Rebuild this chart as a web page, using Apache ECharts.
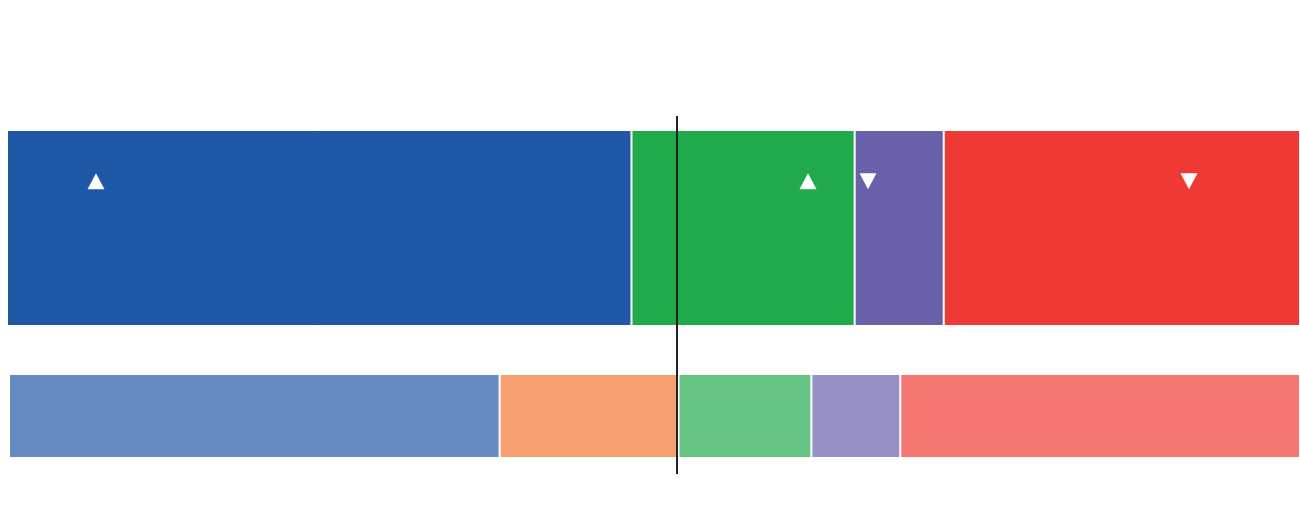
<!DOCTYPE html>
<html><head><meta charset="utf-8">
<script src="https://cdn.jsdelivr.net/npm/echarts@6/dist/echarts.min.js"></script>
<style>html,body{margin:0;padding:0;background:#fff}#c{width:1300px;height:516px}</style>
</head><body><div id="c"></div>
<script>
// Values (arbitrary units, total = 1292)
const TOTAL = 1292;
const topNames = ['A', 'B', 'C', 'D'];
const topValues = [624, 223, 89, 356];
const topColors = ['#2058a8', '#21aa4b', '#6962aa', '#ef3935'];
const bottomNames = ['A', 'E', 'B', 'C', 'D'];
const bottomValues = [491, 179, 133, 89, 400];
const bottomColors = ['#658abf', '#f6a072', '#65c483', '#9591c4', '#f47771'];
const thresholdValue = 669;
const upMarkers = [88, 800];
const downMarkers = [860, 1181];
const markerLevel = 0.818;

const series = [];
topValues.forEach((v, i) => series.push({
  type: 'bar', name: topNames[i], stack: 'top', xAxisIndex: 0, yAxisIndex: 0,
  data: [v], barWidth: '100%', itemStyle: { color: topColors[i], borderColor: '#fff', borderWidth: 1 },
  silent: true, animation: false
}));
bottomValues.forEach((v, i) => series.push({
  type: 'bar', name: bottomNames[i], stack: 'bottom', xAxisIndex: 1, yAxisIndex: 1,
  data: [v], barWidth: '100%', itemStyle: { color: bottomColors[i], borderColor: '#fff', borderWidth: 1 },
  silent: true, animation: false
}));
series.push({
  type: 'line', xAxisIndex: 2, yAxisIndex: 2, data: [[thresholdValue, 0], [thresholdValue, 1]],
  symbol: 'none', lineStyle: { color: '#222', width: 2 }, animation: false, silent: true, z: 10
});
series.push({
  type: 'scatter', xAxisIndex: 2, yAxisIndex: 2, data: upMarkers.map(x => [x, markerLevel]),
  symbol: 'triangle', symbolSize: [17, 16], itemStyle: { color: '#fff', opacity: 1 }, animation: false, silent: true, z: 11
});
series.push({
  type: 'scatter', xAxisIndex: 2, yAxisIndex: 2, data: downMarkers.map(x => [x, markerLevel]),
  symbol: 'triangle', symbolRotate: 180, symbolSize: [17, 16], itemStyle: { color: '#fff', opacity: 1 }, animation: false, silent: true, z: 11
});

const hiddenX = i => ({ type: 'value', gridIndex: i, min: 0, max: TOTAL, show: false });
const chart = echarts.init(document.getElementById('c'));
chart.setOption({
  backgroundColor: '#fff',
  grid: [
    { left: 7, right: 0, top: 130, height: 196 },
    { left: 9, right: 0, top: 374, height: 84 },
    { left: 8, right: 0, top: 116, height: 358 }
  ],
  xAxis: [
    { type: 'value', gridIndex: 0, min: 0, max: TOTAL, show: false },
    { type: 'value', gridIndex: 1, min: 0, max: TOTAL, show: false },
    hiddenX(2)
  ],
  yAxis: [
    { type: 'category', gridIndex: 0, data: ['top'], show: false },
    { type: 'category', gridIndex: 1, data: ['bottom'], show: false },
    { type: 'value', gridIndex: 2, min: 0, max: 1, show: false }
  ],
  series
});
</script></body></html>
